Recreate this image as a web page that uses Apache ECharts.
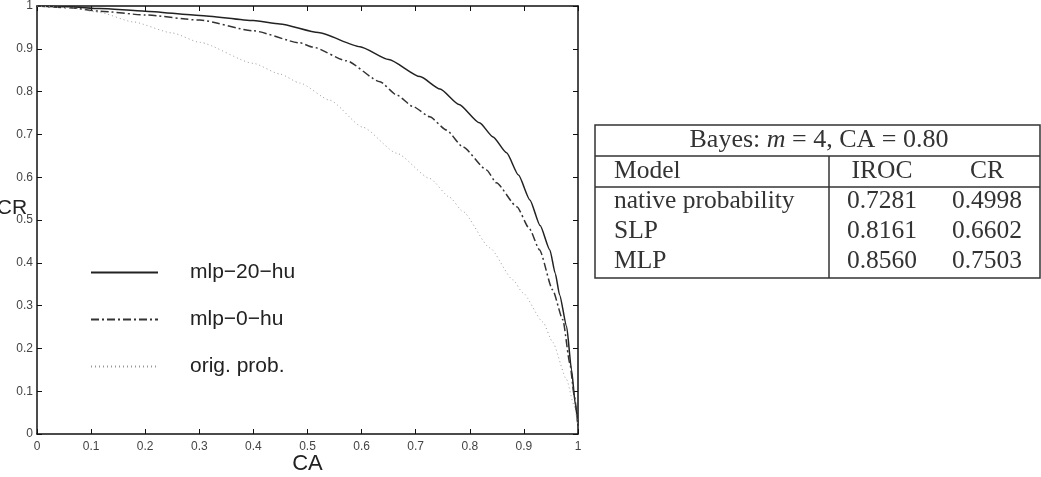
<!DOCTYPE html>
<html>
<head>
<meta charset="utf-8">
<script src="https://cdn.jsdelivr.net/npm/echarts@6/dist/echarts.min.js"></script>
<style>
  html, body { margin: 0; padding: 0; background: #fff; }
  #chart { width: 1041px; height: 477px; }
</style>
</head>
<body>
<div id="chart"></div>
<script>
// ROC-like curves: [CA, CR]
const mlp20 = [
  [0, 1], [0.06, 0.998], [0.116, 0.994], [0.2, 0.988], [0.301, 0.978], [0.4, 0.966],
  [0.449, 0.958], [0.52, 0.938], [0.597, 0.905], [0.65, 0.875], [0.708, 0.835],
  [0.745, 0.806], [0.78, 0.77], [0.818, 0.727], [0.843, 0.694], [0.868, 0.657],
  [0.89, 0.605], [0.911, 0.547], [0.93, 0.487], [0.948, 0.43], [0.958, 0.375],
  [0.966, 0.325], [0.979, 0.251], [0.988, 0.15], [0.995, 0.07], [1, 0.02]
];
const mlp0 = [
  [0, 1], [0.06, 0.996], [0.116, 0.988], [0.2, 0.979], [0.301, 0.967], [0.4, 0.942],
  [0.486, 0.914], [0.51, 0.904], [0.572, 0.872], [0.634, 0.823], [0.665, 0.792],
  [0.695, 0.765], [0.726, 0.741], [0.757, 0.71], [0.787, 0.671], [0.831, 0.617],
  [0.849, 0.587], [0.887, 0.531], [0.91, 0.48], [0.929, 0.43], [0.953, 0.337],
  [0.972, 0.267], [0.985, 0.165], [0.993, 0.09], [1, 0.02]
];
const origProb = [
  [0, 1], [0.06, 0.996], [0.116, 0.985], [0.177, 0.963], [0.25, 0.937], [0.301, 0.915],
  [0.4, 0.866], [0.449, 0.841], [0.486, 0.82], [0.541, 0.78], [0.602, 0.717],
  [0.665, 0.656], [0.726, 0.597], [0.763, 0.553], [0.787, 0.52], [0.837, 0.435],
  [0.88, 0.36], [0.898, 0.33], [0.935, 0.262], [0.953, 0.215], [0.979, 0.127],
  [0.992, 0.07], [1, 0.02]
];
const seriesNames = ["mlp−20−hu", "mlp−0−hu", "orig. prob."];

// table on the right
const tableTitle = "Bayes: ";
const tableHeader = ["Model", "IROC", "CR"];
const models = ["native probability", "SLP", "MLP"];
const irocVals = ["0.7281", "0.8161", "0.8560"];
const crVals = ["0.4998", "0.6602", "0.7503"];

const chart = echarts.init(document.getElementById("chart"));
const sans = "Liberation Sans, Arial, Helvetica, sans-serif";
const serif = "'Liberation Serif', 'Times New Roman', serif";
const fmt = (v) => String(+v.toFixed(1));

const axisBase = {
  type: "value", min: 0, max: 1, interval: 0.1,
  axisLine: { show: true, onZero: false, lineStyle: { color: "#111", width: 1.5 } },
  axisTick: { show: true, inside: true, length: 5, lineStyle: { color: "#111", width: 1 } },
  splitLine: { show: false },
};

// table graphics
const tX0 = 595, tX1 = 1040, tY0 = 125, tY1 = 278, colX = 829;
const rowY = [201.5, 231.5, 261.5];
const tFont = "25.5px " + serif;
const tableGraphics = [
  { type: "rect", shape: { x: tX0, y: tY0, width: tX1 - tX0, height: tY1 - tY0 },
    style: { fill: "#fff", stroke: "#333", lineWidth: 1.5 } },
  { type: "line", shape: { x1: tX0, y1: 156, x2: tX1, y2: 156 }, style: { stroke: "#333", lineWidth: 1.5 } },
  { type: "line", shape: { x1: tX0, y1: 187, x2: tX1, y2: 187 }, style: { stroke: "#333", lineWidth: 1.5 } },
  { type: "line", shape: { x1: colX, y1: 156, x2: colX, y2: tY1 }, style: { stroke: "#333", lineWidth: 1.5 } },
  { type: "text", x: 819, y: 140,
    style: {
      text: "{a|" + tableTitle + "}{i|m}{a| = 4, CA = 0.80}",
      align: "center", verticalAlign: "middle",
      rich: {
        a: { fontFamily: serif, fontSize: 26, fill: "#333" },
        i: { fontFamily: serif, fontSize: 26, fontStyle: "italic", fill: "#333" },
      },
    } },
  { type: "text", x: 614, y: 171, style: { text: tableHeader[0], font: tFont, fill: "#333", verticalAlign: "middle" } },
  { type: "text", x: 882, y: 171, style: { text: tableHeader[1], font: tFont, fill: "#333", align: "center", verticalAlign: "middle" } },
  { type: "text", x: 987, y: 171, style: { text: tableHeader[2], font: tFont, fill: "#333", align: "center", verticalAlign: "middle" } },
];
models.forEach((m, i) => {
  tableGraphics.push(
    { type: "text", x: 614, y: rowY[i], style: { text: m, font: tFont, fill: "#333", verticalAlign: "middle" } },
    { type: "text", x: 882, y: rowY[i], style: { text: irocVals[i], font: tFont, fill: "#333", align: "center", verticalAlign: "middle" } },
    { type: "text", x: 987, y: rowY[i], style: { text: crVals[i], font: tFont, fill: "#333", align: "center", verticalAlign: "middle" } }
  );
});

chart.setOption({
  animation: false,
  textStyle: { fontFamily: sans },
  grid: { left: 37, right: 463, top: 6, bottom: 43, containLabel: false, outerBoundsMode: "none" },
  xAxis: [
    {
      ...axisBase, position: "bottom",
      name: "CA", nameLocation: "middle", nameGap: 18.5, nameMoveOverlap: false,
      nameTextStyle: { fontSize: 22, color: "#222", fontFamily: sans },
      axisLabel: { fontSize: 12, color: "#444", margin: 6.5, formatter: fmt },
    },
    { ...axisBase, position: "top", axisLabel: { show: false } },
  ],
  yAxis: [
    { ...axisBase, position: "left", axisLabel: { fontSize: 12, color: "#444", margin: 4, formatter: fmt } },
    { ...axisBase, position: "right", axisLabel: { show: false } },
  ],
  legend: {
    orient: "vertical", left: 85, top: 257,
    itemWidth: 67, itemHeight: 14, itemGap: 26,
    data: seriesNames,
    itemStyle: { opacity: 0 },
    textStyle: { fontSize: 21, color: "#222", fontFamily: sans, lineHeight: 18, padding: [0, 0, 0, 27] },
  },
  graphic: [
    { type: "text", x: 12, y: 208,
      style: { text: "CR", font: "21px " + sans, fill: "#222", align: "center", verticalAlign: "middle" } },
    ...tableGraphics,
  ],
  series: [
    { name: seriesNames[0], type: "line", data: mlp20, symbol: "none",
      smooth: 0.2, smoothMonotone: "x",
      itemStyle: { color: "#222" },
      lineStyle: { color: "#222", width: 1.5, type: "solid" } },
    { name: seriesNames[1], type: "line", data: mlp0, symbol: "none",
      smooth: 0.2, smoothMonotone: "x",
      itemStyle: { color: "#333" },
      lineStyle: { color: "#333", width: 1.5, type: [8, 3, 2, 3] } },
    { name: seriesNames[2], type: "line", data: origProb, symbol: "none",
      smooth: 0.2, smoothMonotone: "x",
      itemStyle: { color: "#999" },
      lineStyle: { color: "#999", width: 1, type: [1, 3] } },
  ],
});
</script>
</body>
</html>
